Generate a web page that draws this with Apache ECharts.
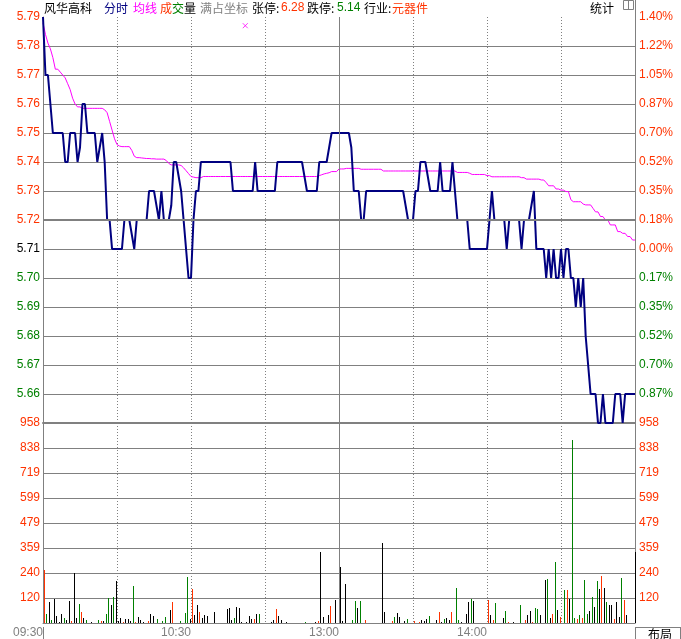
<!DOCTYPE html>
<html><head><meta charset="utf-8">
<script src="https://cdn.jsdelivr.net/npm/echarts/dist/echarts.min.js"></script>
<style>html,body{margin:0;padding:0;background:#fff}#c{width:681px;height:639px}</style>
</head><body><div id="c"></div>
<script>
// ---------- DATA ----------
const prevClose = 5.71;
const priceMin = 5.65, priceMax = 5.79;
const volMax = 958;
// minute prices 09:30 .. 11:30 / 13:01 .. 15:00 (241 points)
const prices = [
5.79,5.77,5.77,5.76,5.75,5.75,5.75,5.75,5.75,5.74,
5.74,5.75,5.75,5.75,5.74,5.745,5.76,5.76,5.75,5.75,
5.75,5.75,5.74,5.745,5.75,5.74,5.72,5.72,5.71,5.71,
5.71,5.71,5.71,5.72,5.72,5.72,5.715,5.71,5.72,5.72,
5.72,5.72,5.72,5.73,5.73,5.73,5.725,5.72,5.73,5.72,
5.72,5.72,5.725,5.74,5.74,5.735,5.73,5.72,5.71,5.70,
5.70,5.72,5.73,5.73,5.74,5.74,5.74,5.74,5.74,5.74,
5.74,5.74,5.74,5.74,5.74,5.74,5.74,5.73,5.73,5.73,
5.73,5.73,5.73,5.73,5.73,5.73,5.74,5.73,5.73,5.73,
5.73,5.73,5.73,5.73,5.73,5.74,5.74,5.74,5.74,5.74,
5.74,5.74,5.74,5.74,5.74,5.74,5.735,5.73,5.73,5.73,
5.73,5.73,5.74,5.74,5.74,5.74,5.745,5.75,5.75,5.75,
5.75,5.75,5.75,5.75,5.75,5.745,5.73,5.73,5.73,5.72,
5.72,5.73,5.73,5.73,5.73,5.73,5.73,5.73,5.73,5.73,
5.73,5.73,5.73,5.73,5.73,5.73,5.73,5.725,5.72,5.72,
5.72,5.73,5.73,5.74,5.74,5.74,5.735,5.73,5.73,5.73,
5.73,5.74,5.73,5.73,5.73,5.73,5.74,5.73,5.72,5.72,
5.72,5.72,5.72,5.71,5.71,5.71,5.71,5.71,5.71,5.71,
5.71,5.72,5.73,5.72,5.72,5.72,5.72,5.72,5.71,5.72,
5.72,5.72,5.72,5.72,5.71,5.72,5.72,5.72,5.725,5.73,
5.71,5.71,5.71,5.71,5.70,5.71,5.70,5.71,5.70,5.70,
5.71,5.70,5.71,5.71,5.70,5.70,5.69,5.70,5.69,5.70,
5.68,5.67,5.66,5.66,5.66,5.65,5.65,5.66,5.65,5.65,
5.65,5.65,5.66,5.66,5.66,5.65,5.66,5.66,5.66,5.66,5.66
];
const avgPrices = [
5.788,5.784,5.781,5.779,5.776,5.772,5.772,5.771,5.770,5.769,
5.767,5.765,5.762,5.760,5.759,5.759,5.7585,5.7585,5.7585,5.7585,
5.7585,5.7585,5.7585,5.7585,5.7585,5.758,5.757,5.754,5.751,5.748,
5.746,5.7455,5.7453,5.7453,5.7453,5.7453,5.744,5.742,5.7415,5.7415,
5.7414,5.7413,5.7412,5.7412,5.7411,5.7411,5.741,5.741,5.741,5.741,
5.7405,5.7395,5.739,5.739,5.739,5.739,5.7388,5.738,5.737,5.736,
5.735,5.7348,5.7346,5.7346,5.7346,5.735,5.735,5.735,5.735,5.735,
5.735,5.735,5.735,5.735,5.735,5.735,5.735,5.735,5.735,5.735,
5.735,5.735,5.735,5.735,5.735,5.735,5.735,5.735,5.735,5.735,
5.735,5.735,5.735,5.735,5.735,5.735,5.735,5.735,5.735,5.735,
5.735,5.735,5.735,5.735,5.735,5.735,5.735,5.735,5.735,5.735,
5.735,5.735,5.7353,5.7356,5.7359,5.7361,5.7363,5.7367,5.7367,5.7367,
5.7376,5.7376,5.7376,5.7378,5.7378,5.7378,5.7378,5.7378,5.7378,5.7375,
5.7375,5.7375,5.7375,5.7375,5.7375,5.7375,5.7375,5.7375,5.7369,5.7369,
5.7369,5.7369,5.7369,5.7369,5.7369,5.7369,5.7369,5.7369,5.7369,5.7369,
5.7369,5.7369,5.7369,5.7369,5.7369,5.7369,5.7369,5.7369,5.7369,5.7369,
5.7369,5.7369,5.7369,5.7369,5.7369,5.7369,5.7369,5.7369,5.7364,5.7364,
5.7364,5.7364,5.7364,5.7361,5.7357,5.7357,5.7357,5.7357,5.7357,5.7357,
5.7353,5.7353,5.7349,5.7349,5.7349,5.7349,5.7349,5.7349,5.7349,5.7349,
5.7349,5.7349,5.7349,5.7349,5.7346,5.7346,5.7341,5.7341,5.7341,5.7341,
5.7341,5.7341,5.7338,5.7338,5.7329,5.7318,5.7318,5.7318,5.7307,5.7307,
5.7303,5.7303,5.7298,5.7298,5.727,5.7263,5.7263,5.7263,5.7263,5.7255,
5.7252,5.7252,5.7252,5.724,5.7228,5.7228,5.7212,5.7212,5.72,5.72,
5.7183,5.7183,5.7183,5.716,5.716,5.7154,5.7154,5.7143,5.7143,5.7131,5.7131
];
const volumes = [
254,41,100,14,115,33,6,43,24,14,
104,9,239,25,92,52,25,14,0,5,
0,0,14,9,9,43,120,85,123,199,
9,24,5,19,17,11,175,5,28,13,
6,0,9,43,33,0,17,0,9,28,
0,62,100,0,0,9,0,47,218,17,
161,38,85,52,24,38,33,0,0,52,
0,0,0,0,66,71,14,24,76,71,
5,0,5,33,19,19,43,43,0,0,
0,0,5,14,66,33,14,0,5,0,
0,0,0,0,0,0,5,0,0,0,
5,9,342,28,0,38,80,0,109,0,
266,9,185,0,0,14,104,71,104,0,
14,0,0,0,0,0,0,385,52,0,
0,9,28,47,28,0,9,19,0,0,
9,0,5,14,9,19,33,0,0,14,
52,5,19,24,14,52,0,170,14,5,
0,43,100,113,104,0,0,0,0,0,
109,38,14,94,0,0,24,57,5,0,
5,0,0,85,0,14,38,57,5,71,
66,38,0,204,209,24,43,290,62,28,
0,157,157,113,875,24,19,38,24,204,
43,57,123,76,199,161,227,170,100,85,
85,19,100,28,214,109,38,0,0,0,342
];
// r = up (red), g = down (green), k = flat (black)
const volDirs = (
"rgkgkkkkgk krkkgrkgkk kkgrkggkgk kkrkkkgrkk kkrkkkgkgg" +
"kkrkkgkggk rkkrkkkkkk kkkkkkkgkk kkkkkrkgkk kkkkrkkkkk" +
"kkkkkkgkkk krkkkkrkkk kkkkkggkgk rkkkkkkkkk krgkkkkgkk" +
"rkrkkkgkkk rkgkkrkggk kkkgkkkkkk rkrgkkkgrk kkkgkrkkrg" +
"gkkkgkrgkr kgrkggrgrg gkgkgkrkgk krkkgrkkkkk").replace(/\s/g, "");
const timeTicks = [0, 60, 120, 180];
const timeLabels = ["09:30", "10:30", "13:00", "14:00"];
const pctLabels = ["0.87%","0.70%","0.52%","0.35%","0.17%","0.00%","0.18%","0.35%","0.52%","0.70%","0.87%","1.05%","1.22%","1.40%"]; // 5.66 .. 5.79
const markerPoint = [82, 5.787];

// ---------- STYLE ----------
const RED = "#ff3300", GREEN = "#008000", GRAY = "#808080", NAVY = "#000080", MAG = "#ff00ff";
const NUMFONT = '"Liberation Sans", Arial, sans-serif';
const CJK = '"Noto Sans CJK SC", sans-serif';

function cents(v) { return Math.round(parseFloat(v) * 100); }
const pcC = cents(prevClose);

const chart = echarts.init(document.getElementById("c"));
const gridSplit = { show: true, showMinLine: false, showMaxLine: false, lineStyle: { color: GRAY, width: 1, type: "solid" } };
const xSplit = { show: true, showMinLine: false, showMaxLine: false, lineStyle: { color: GRAY, width: 1, type: [1, 2] } };

function hText(text, x, color, font) {
  return { type: "text", x: x, y: 8, silent: true,
    style: { text: text, fill: color, font: "12px " + (font || CJK), verticalAlign: "middle", align: "left" } };
}
function dirColor(i) { const d = volDirs[i]; return d === "r" ? RED : (d === "g" ? GREEN : "#000"); }

chart.setOption({
  animation: false,
  backgroundColor: "#fff",
  grid: [
    { left: 43, right: 46, top: 17, height: 406 },
    { left: 43, right: 46, top: 423, height: 204 }
  ],
  xAxis: [
    { gridIndex: 0, type: "value", min: 0, max: 240, interval: 30,
      axisLine: { show: true, lineStyle: { color: GRAY, width: 2 } },
      axisTick: { show: false }, axisLabel: { show: false }, splitLine: xSplit },
    { gridIndex: 1, type: "value", min: 0, max: 240, interval: 30,
      axisLine: { show: true, lineStyle: { color: GRAY, width: 1 } },
      axisTick: { show: false },
      axisLabel: { show: true, showMinLabel: true, showMaxLabel: true, align: "right", margin: 4,
        color: GRAY, fontFamily: NUMFONT, fontSize: 12,
        formatter: function (v) { const k = timeTicks.indexOf(Math.round(v)); return k >= 0 ? timeLabels[k] : ""; } },
      splitLine: xSplit }
  ],
  yAxis: [
    { gridIndex: 0, type: "value", position: "left", min: priceMin, max: priceMax, interval: 0.01,
      axisLine: { show: true, lineStyle: { color: GRAY } }, axisTick: { show: false },
      axisLabel: { margin: 3, fontFamily: NUMFONT, fontSize: 12,
        formatter: function (v) { return cents(v) <= cents(priceMin) ? "" : parseFloat(v).toFixed(2); },
        color: function (v) { const c = cents(v); return c > pcC ? RED : (c < pcC ? GREEN : "#000"); } },
      splitLine: gridSplit },
    { gridIndex: 0, type: "value", position: "right", min: priceMin, max: priceMax, interval: 0.01,
      axisLine: { show: true, lineStyle: { color: GRAY } }, axisTick: { show: false },
      axisLabel: { margin: 4, fontFamily: NUMFONT, fontSize: 12,
        formatter: function (v) { const k = cents(v) - cents(priceMin) - 1; return k >= 0 && k < pctLabels.length ? pctLabels[k] : ""; },
        color: function (v) { return cents(v) >= pcC ? RED : GREEN; } },
      splitLine: { show: false } },
    { gridIndex: 1, type: "value", position: "left", min: 0, max: volMax, interval: volMax / 8,
      axisLine: { show: true, lineStyle: { color: GRAY } }, axisTick: { show: false },
      axisLabel: { margin: 3, fontFamily: NUMFONT, fontSize: 12, color: RED,
        formatter: function (v) { return v < 1 ? "" : String(Math.round(v)); } },
      splitLine: gridSplit },
    { gridIndex: 1, type: "value", position: "right", min: 0, max: volMax, interval: volMax / 8,
      axisLine: { show: true, lineStyle: { color: GRAY } }, axisTick: { show: false },
      axisLabel: { margin: 4, fontFamily: NUMFONT, fontSize: 12, color: RED,
        formatter: function (v) { return v < 1 ? "" : String(Math.round(v)); } },
      splitLine: { show: false } }
  ],
  series: [
    { type: "line", xAxisIndex: 0, yAxisIndex: 0, data: [], z: 1, silent: true,
      markLine: { silent: true, symbol: "none", label: { show: false }, animation: false,
        data: [
          { yAxis: 5.72, lineStyle: { color: GRAY, width: 2, type: "solid" } },
          { xAxis: 120, lineStyle: { color: GRAY, width: 1, type: "solid" } }
        ] } },
    { type: "line", name: "均线", xAxisIndex: 0, yAxisIndex: 0, z: 3,
      data: avgPrices.map(function (p, i) { return [i, p]; }),
      showSymbol: false, lineStyle: { color: MAG, width: 1 } },
    { type: "line", name: "分时", xAxisIndex: 0, yAxisIndex: 0, z: 4,
      data: prices.map(function (p, i) { return [i, p]; }),
      showSymbol: false, lineStyle: { color: NAVY, width: 2 } },
    { type: "scatter", xAxisIndex: 0, yAxisIndex: 0, z: 5, data: [markerPoint],
      symbol: "path://M0,0L10,10M10,0L0,10", symbolSize: 5,
      itemStyle: { color: "none", borderColor: MAG, borderWidth: 1 } },
    { type: "custom", name: "成交量", xAxisIndex: 1, yAxisIndex: 2, z: 3,
      data: volumes.map(function (v, i) { return [i, v]; }),
      renderItem: function (params, api) {
        const top = api.coord([api.value(0), api.value(1)]);
        const base = api.coord([api.value(0), 0]);
        const x = Math.min(Math.round(top[0]) + 1, 635);
        const y0 = Math.round(top[1]), y1 = Math.round(base[1]);
        if (y1 - y0 < 1) return null;
        return { type: "rect", shape: { x: x, y: y0, width: 1, height: y1 - y0 },
          style: { fill: dirColor(params.dataIndex) } };
      },
      markLine: { silent: true, symbol: "none", label: { show: false }, animation: false,
        data: [{ xAxis: 120, lineStyle: { color: GRAY, width: 1, type: "solid" } }] } }
  ],
  graphic: [
    hText("风华高科", 44, "#000"),
    hText("分时", 104, NAVY),
    hText("均线", 133, MAG),
    hText("成", 160, RED), hText("交", 172, GREEN), hText("量", 184, "#000"),
    hText("满占坐标", 200, GRAY),
    hText("张停:", 252, "#000"), hText("6.28", 281, RED, NUMFONT),
    hText("跌停:", 307, "#000"), hText("5.14", 337, GREEN, NUMFONT),
    hText("行业:", 364, "#000"), hText("元器件", 392, RED),
    hText("统计", 590, "#000"),
    { type: "rect", silent: true, shape: { x: 623.5, y: 0.5, width: 10, height: 9 }, style: { fill: "none", stroke: GRAY } },
    { type: "line", silent: true, shape: { x1: 628.5, y1: 0, x2: 628.5, y2: 9 }, style: { stroke: GRAY } },
    { type: "line", silent: true, shape: { x1: 635.5, y1: 0, x2: 635.5, y2: 17 }, style: { stroke: GRAY } },
    { type: "line", silent: true, shape: { x1: 635.5, y1: 627, x2: 635.5, y2: 639 }, style: { stroke: GRAY } },
    { type: "line", silent: true, shape: { x1: 43.5, y1: 627, x2: 43.5, y2: 639 }, style: { stroke: GRAY } },
    { type: "line", silent: true, shape: { x1: 680.5, y1: 627, x2: 680.5, y2: 639 }, style: { stroke: GRAY } },
    { type: "line", silent: true, shape: { x1: 635, y1: 627.5, x2: 681, y2: 627.5 }, style: { stroke: GRAY } },
    { type: "text", x: 648, y: 634, silent: true, style: { text: "布局", fill: "#000", font: "12px " + CJK, verticalAlign: "middle" } }
  ]
});
</script>
</body></html>
